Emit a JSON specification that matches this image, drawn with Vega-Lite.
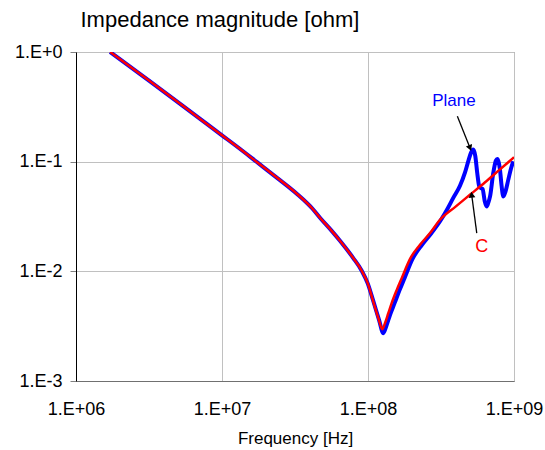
{
  "$schema": "https://vega.github.io/schema/vega-lite/v6.json",
  "width": 438,
  "height": 329,
  "autosize": {"type": "none"},
  "padding": {"left": 76, "top": 52, "right": 31, "bottom": 69},
  "background": "white",
  "config": {"view": {"stroke": "#808080", "strokeWidth": 1}, "font": "Liberation Sans"},
  "datasets": {
    "curves": [
      {"series": "C", "f": 1.714e6, "z": 1.0},
      {"series": "C", "f": 3.162e6, "z": 0.5495},
      {"series": "C", "f": 7.079e6, "z": 0.2455},
      {"series": "C", "f": 1.0e7, "z": 0.1738},
      {"series": "C", "f": 1.318e7, "z": 0.1318},
      {"series": "C", "f": 1.738e7, "z": 0.0989},
      {"series": "C", "f": 2.371e7, "z": 0.0716},
      {"series": "C", "f": 3.236e7, "z": 0.0513},
      {"series": "C", "f": 4.169e7, "z": 0.0372},
      {"series": "C", "f": 4.688e7, "z": 0.0308},
      {"series": "C", "f": 5.623e7, "z": 0.0235},
      {"series": "C", "f": 6.427e7, "z": 0.0190},
      {"series": "C", "f": 7.925e7, "z": 0.01321},
      {"series": "C", "f": 9.057e7, "z": 0.01012},
      {"series": "C", "f": 9.954e7, "z": 0.0078},
      {"series": "C", "f": 1.0864e8, "z": 0.0053},
      {"series": "C", "f": 1.1776e8, "z": 0.00374},
      {"series": "C", "f": 1.2531e8, "z": 0.002965},
      {"series": "C", "f": 1.3062e8, "z": 0.003365},
      {"series": "C", "f": 1.3772e8, "z": 0.00415},
      {"series": "C", "f": 1.4521e8, "z": 0.005129},
      {"series": "C", "f": 1.574e8, "z": 0.006776},
      {"series": "C", "f": 1.7022e8, "z": 0.00867},
      {"series": "C", "f": 1.9409e8, "z": 0.01300},
      {"series": "C", "f": 2.2699e8, "z": 0.01746},
      {"series": "C", "f": 2.6607e8, "z": 0.02234},
      {"series": "C", "f": 3.1117e8, "z": 0.02951},
      {"series": "C", "f": 3.981e8, "z": 0.0389},
      {"series": "C", "f": 5.012e8, "z": 0.0501},
      {"series": "C", "f": 6.31e8, "z": 0.0646},
      {"series": "C", "f": 7.943e8, "z": 0.0841},
      {"series": "C", "f": 1.0e9, "z": 0.1096},
      {"series": "Plane", "f": 1.714e6, "z": 1.0},
      {"series": "Plane", "f": 3.162e6, "z": 0.5495},
      {"series": "Plane", "f": 7.079e6, "z": 0.2455},
      {"series": "Plane", "f": 1.0e7, "z": 0.1738},
      {"series": "Plane", "f": 1.318e7, "z": 0.1318},
      {"series": "Plane", "f": 1.738e7, "z": 0.0989},
      {"series": "Plane", "f": 2.371e7, "z": 0.0716},
      {"series": "Plane", "f": 3.236e7, "z": 0.0513},
      {"series": "Plane", "f": 4.169e7, "z": 0.0372},
      {"series": "Plane", "f": 4.688e7, "z": 0.0308},
      {"series": "Plane", "f": 5.623e7, "z": 0.0235},
      {"series": "Plane", "f": 6.427e7, "z": 0.0190},
      {"series": "Plane", "f": 7.925e7, "z": 0.01321},
      {"series": "Plane", "f": 9.057e7, "z": 0.01012},
      {"series": "Plane", "f": 9.954e7, "z": 0.00776},
      {"series": "Plane", "f": 1.0864e8, "z": 0.00537},
      {"series": "Plane", "f": 1.1885e8, "z": 0.00363},
      {"series": "Plane", "f": 1.2735e8, "z": 0.00273},
      {"series": "Plane", "f": 1.3335e8, "z": 0.00316},
      {"series": "Plane", "f": 1.4125e8, "z": 0.00398},
      {"series": "Plane", "f": 1.5205e8, "z": 0.00513},
      {"series": "Plane", "f": 1.6482e8, "z": 0.00678},
      {"series": "Plane", "f": 1.7783e8, "z": 0.00867},
      {"series": "Plane", "f": 2.0184e8, "z": 0.01300},
      {"series": "Plane", "f": 2.3442e8, "z": 0.01746},
      {"series": "Plane", "f": 2.7227e8, "z": 0.02234},
      {"series": "Plane", "f": 3.1623e8, "z": 0.02951},
      {"series": "Plane", "f": 3.4674e8, "z": 0.03631},
      {"series": "Plane", "f": 3.8371e8, "z": 0.04677},
      {"series": "Plane", "f": 4.2658e8, "z": 0.06026},
      {"series": "Plane", "f": 4.6132e8, "z": 0.07943},
      {"series": "Plane", "f": 4.8753e8, "z": 0.1023},
      {"series": "Plane", "f": 5.0699e8, "z": 0.1202},
      {"series": "Plane", "f": 5.2602e8, "z": 0.1288},
      {"series": "Plane", "f": 5.4325e8, "z": 0.1122},
      {"series": "Plane", "f": 5.5976e8, "z": 0.07943},
      {"series": "Plane", "f": 5.781e8, "z": 0.05943},
      {"series": "Plane", "f": 5.9156e8, "z": 0.05754},
      {"series": "Plane", "f": 6.0954e8, "z": 0.05623},
      {"series": "Plane", "f": 6.3096e8, "z": 0.04335},
      {"series": "Plane", "f": 6.5013e8, "z": 0.03908},
      {"series": "Plane", "f": 6.6834e8, "z": 0.04266},
      {"series": "Plane", "f": 6.8549e8, "z": 0.04819},
      {"series": "Plane", "f": 7.2111e8, "z": 0.07889},
      {"series": "Plane", "f": 7.5162e8, "z": 0.1023},
      {"series": "Plane", "f": 7.6913e8, "z": 0.1059},
      {"series": "Plane", "f": 7.8705e8, "z": 0.0977},
      {"series": "Plane", "f": 8.0168e8, "z": 0.08453},
      {"series": "Plane", "f": 8.2224e8, "z": 0.06026},
      {"series": "Plane", "f": 8.4528e8, "z": 0.04819},
      {"series": "Plane", "f": 8.7096e8, "z": 0.05248},
      {"series": "Plane", "f": 9.1411e8, "z": 0.06855},
      {"series": "Plane", "f": 9.5499e8, "z": 0.0871},
      {"series": "Plane", "f": 9.8855e8, "z": 0.1007}
    ],
    "labels": [
      {"label": "Plane", "f": 3.88e8, "z": 0.3556},
      {"label": "C", "f": 6.01e8, "z": 0.01683}
    ],
    "arrows": [
      {"label": "Plane", "f": 4.093e8, "z": 0.2594, "f2": 5.0e8, "z2": 0.1334},
      {"label": "C", "f": 5.559e8, "z": 0.02234, "f2": 5.129e8, "z2": 0.05}
    ]
  },
  "encoding": {
    "x": {
      "field": "f",
      "type": "quantitative",
      "scale": {"type": "log", "domain": [1e6, 1e9], "nice": false},
      "axis": {
        "values": [1e6, 1e7, 1e8, 1e9],
        "labelExpr": "'1.E+0' + round(log(datum.value) / LN10)",
        "labelFontSize": 18,
        "labelColor": "black",
        "labelBaseline": "alphabetic",
        "labelPadding": 33,
        "labelFlush": false,
        "labelOverlap": false,
        "ticks": false,
        "domainColor": "#707070",
        "grid": true,
        "gridColor": "#c0c0c0",
        "title": "Frequency [Hz]",
        "titleFontSize": 17,
        "titleFontWeight": "normal",
        "titleColor": "black",
        "titleBaseline": "alphabetic",
        "titleY": 62
      }
    },
    "y": {
      "field": "z",
      "type": "quantitative",
      "scale": {"type": "log", "domain": [0.001, 1], "nice": false},
      "axis": {
        "values": [0.001, 0.01, 0.1, 1],
        "labelExpr": "datum.value >= 0.99 ? '1.E+0' : '1.E' + round(log(datum.value) / LN10)",
        "labelFontSize": 18,
        "labelColor": "black",
        "labelPadding": 8,
        "labelFlush": false,
        "labelOverlap": false,
        "labelBaseline": "middle",
        "tickSize": 6,
        "tickColor": "#808080",
        "domainColor": "black",
        "grid": true,
        "gridColor": "#c0c0c0",
        "title": "Impedance magnitude [ohm]",
        "titleAngle": 0,
        "titleAlign": "left",
        "titleBaseline": "alphabetic",
        "titleX": 4,
        "titleY": -26,
        "titleFontSize": 22,
        "titleFontWeight": "normal",
        "titleColor": "black"
      }
    }
  },
  "layer": [
    {
      "data": {"name": "curves"},
      "transform": [{"filter": "datum.series === 'Plane'"}],
      "mark": {"type": "line", "color": "#0000ff", "strokeWidth": 4, "clip": true, "interpolate": "monotone"}
    },
    {
      "data": {"name": "curves"},
      "transform": [{"filter": "datum.series === 'C'"}],
      "mark": {"type": "line", "color": "#ff0000", "strokeWidth": 2.5, "clip": true, "interpolate": "monotone"}
    },
    {
      "data": {"name": "arrows"},
      "mark": {"type": "rule", "color": "black", "strokeWidth": 1.3},
      "encoding": {"x2": {"field": "f2"}, "y2": {"field": "z2"}}
    },
    {
      "data": {"name": "arrows"},
      "transform": [{"filter": "datum.label === 'Plane'"}],
      "mark": {"type": "point", "shape": "triangle-up", "filled": true, "color": "black", "opacity": 1, "size": 45, "angle": 158},
      "encoding": {"x": {"field": "f2", "type": "quantitative"}, "y": {"field": "z2", "type": "quantitative"}}
    },
    {
      "data": {"name": "arrows"},
      "transform": [{"filter": "datum.label === 'C'"}],
      "mark": {"type": "point", "shape": "triangle-up", "filled": true, "color": "black", "opacity": 1, "size": 45, "angle": 353},
      "encoding": {"x": {"field": "f2", "type": "quantitative"}, "y": {"field": "z2", "type": "quantitative"}}
    },
    {
      "data": {"name": "labels"},
      "transform": [{"filter": "datum.label === 'Plane'"}],
      "mark": {"type": "text", "color": "#0000ff", "fontSize": 17, "align": "center", "baseline": "middle"},
      "encoding": {"text": {"field": "label"}}
    },
    {
      "data": {"name": "labels"},
      "transform": [{"filter": "datum.label === 'C'"}],
      "mark": {"type": "text", "color": "#ff0000", "fontSize": 18, "align": "center", "baseline": "middle"},
      "encoding": {"text": {"field": "label"}}
    }
  ]
}
